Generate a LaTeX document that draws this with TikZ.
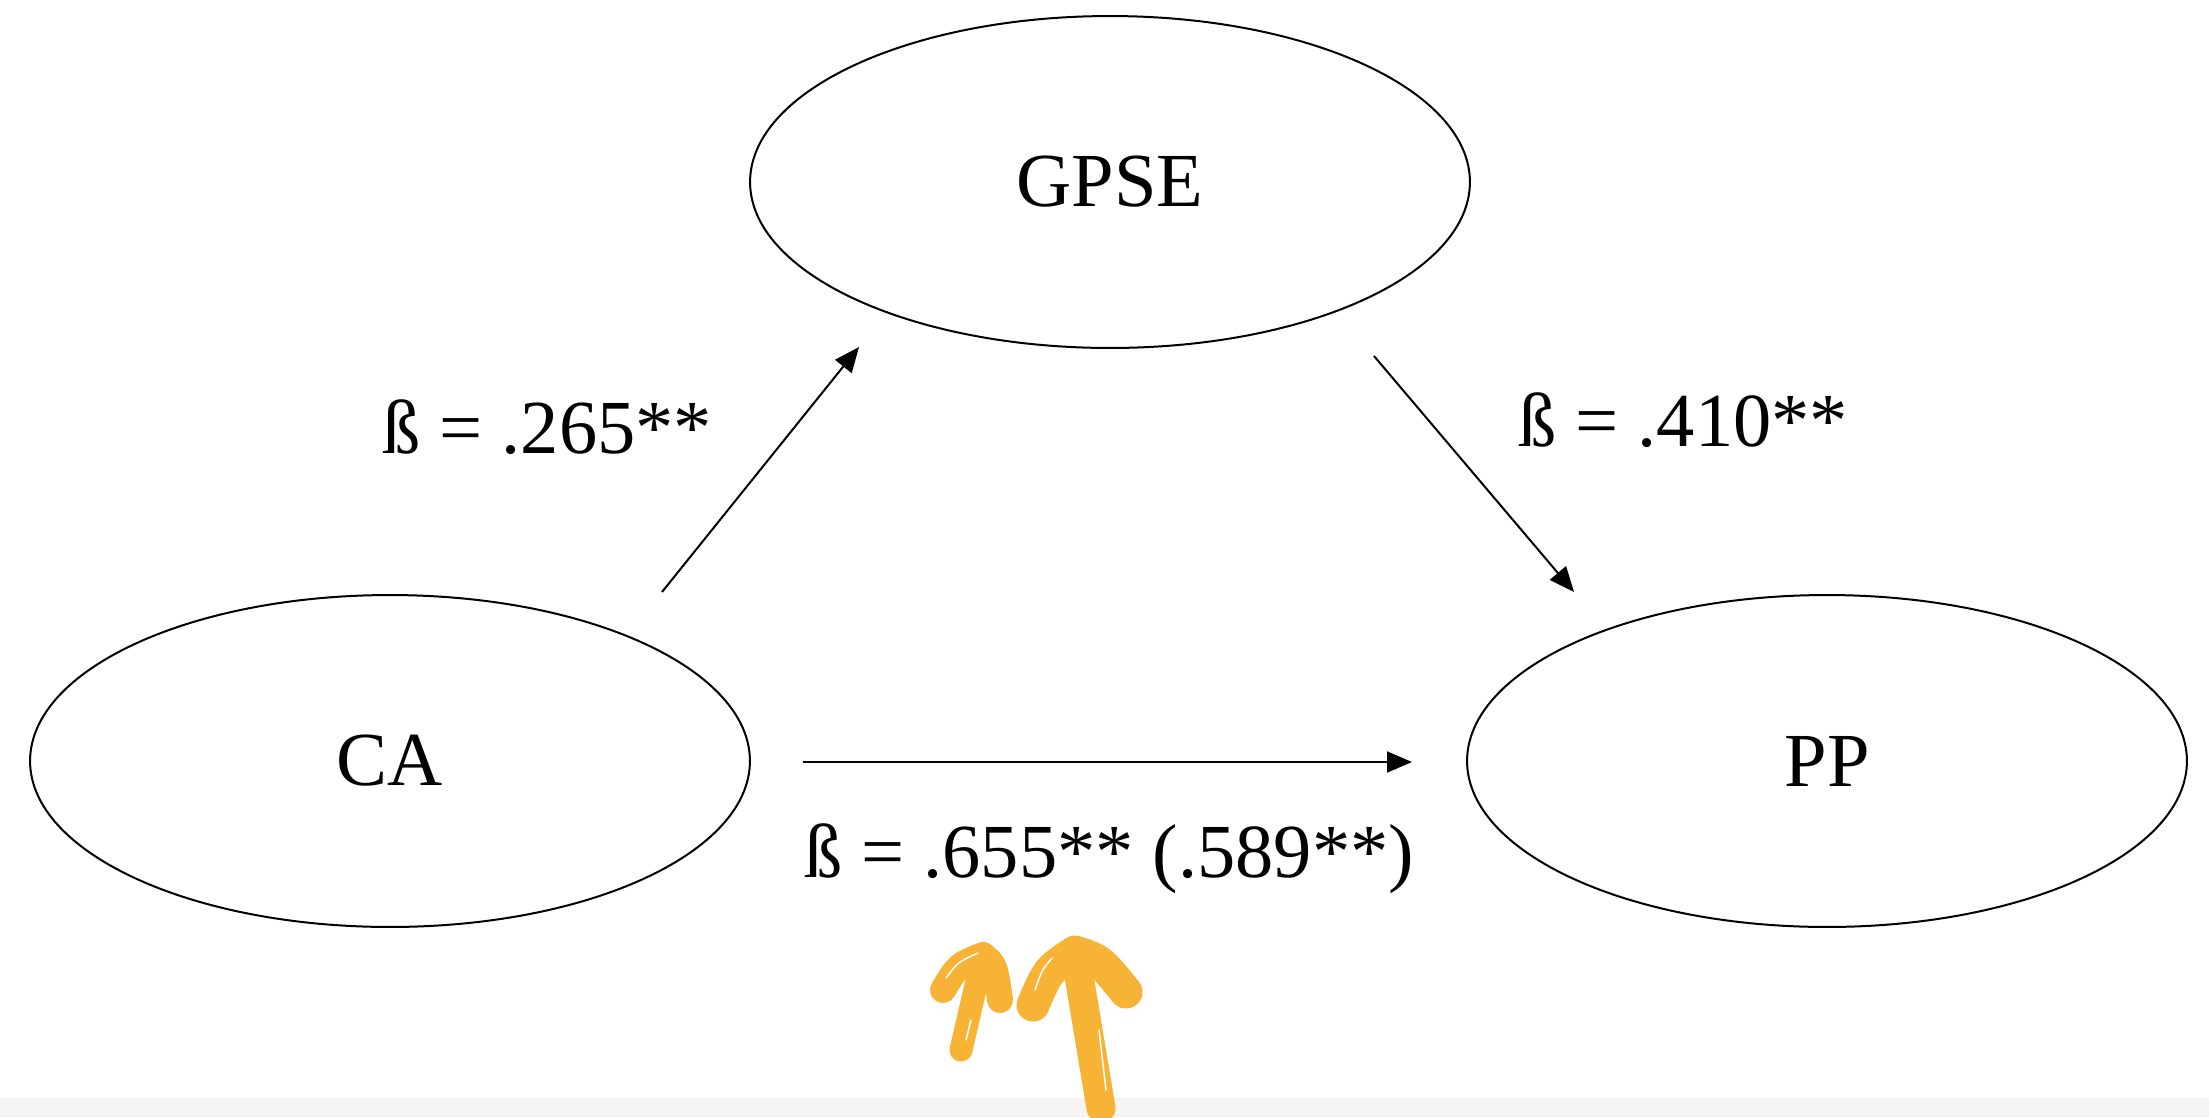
\documentclass[tikz,border=0pt]{standalone}
\usepackage{fontspec}
\setmainfont{Liberation Serif}
\usetikzlibrary{shapes.geometric,arrows.meta}
\definecolor{stripgray}{HTML}{F5F4F2}
\definecolor{hlorange}{HTML}{F7B335}
\begin{document}
\begin{tikzpicture}[x=0.02cm,y=-0.02cm,
  latent/.style={draw,ellipse,line width=0.04cm,minimum width=14.4cm,minimum height=6.64cm,inner sep=0pt,font=\fontsize{43.5}{48}\selectfont},
  path/.style={line width=0.04cm,-{Triangle[length=0.5cm,width=0.42cm]}},
  coef/.style={font=\fontsize{43.5}{48}\selectfont,inner sep=0pt},
  hl/.style={draw=hlorange,line cap=round,line join=round}]
\useasboundingbox (0,0) rectangle (2209,1117);
\fill[white] (0,0) rectangle (2209,1098);
\fill[stripgray] (0,1098) rectangle (2209,1117);
\node[latent] (GPSE) at (1110,182) {GPSE};
\node[latent] (CA) at (390,761) {CA};
\node[latent] (PP) at (1827,761) {PP};
\coordinate (a1s) at (662,592);
\coordinate (a1e) at (859,347);
\coordinate (a2s) at (1374,356);
\coordinate (a2e) at (1574,592);
\coordinate (a3s) at (803,762);
\coordinate (a3e) at (1412,762);
\draw[path] (a1s) -- (a1e);
\draw[path] (a2s) -- (a2e);
\draw[path] (a3s) -- (a3e);
\node[coef] (c1) at (547,427) {ß = .265**};
\node[coef] (c2) at (1683,420) {ß = .410**};
\node[coef] (c3) at (1109,859) {ß = .655** (.589**)};
% orange hand-drawn arrows
\coordinate (m1b) at (961,1050);
\coordinate (m1t) at (983,955);
\coordinate (m1l) at (943,990);
\coordinate (m1r) at (1000,1000);
\draw[hl,line width=0.46cm] (m1b) -- (m1t);
\draw[hl,line width=0.52cm] (m1l) .. controls (958,965) .. (m1t) .. controls (995,965) .. (m1r);
\coordinate (m2b) at (1101,1108);
\coordinate (m2t) at (1075,952);
\coordinate (m2l) at (1033,1005);
\coordinate (m2r) at (1126,992);
\draw[hl,line width=0.58cm] (m2b) -- (m2t);
\draw[hl,line width=0.66cm] (m2l) .. controls (1048,970) .. (m2t) .. controls (1100,960) .. (m2r);
\draw[white,line width=0.03cm,line cap=round] (946,978) .. controls (958,962) .. (978,953);
\draw[white,line width=0.03cm,line cap=round] (971,1020) -- (966,1040);
\draw[white,line width=0.03cm,line cap=round] (1035,990) .. controls (1042,970) .. (1052,958);
\draw[white,line width=0.03cm,line cap=round] (1099,1030) -- (1106,1090);
\end{tikzpicture}
\end{document}
